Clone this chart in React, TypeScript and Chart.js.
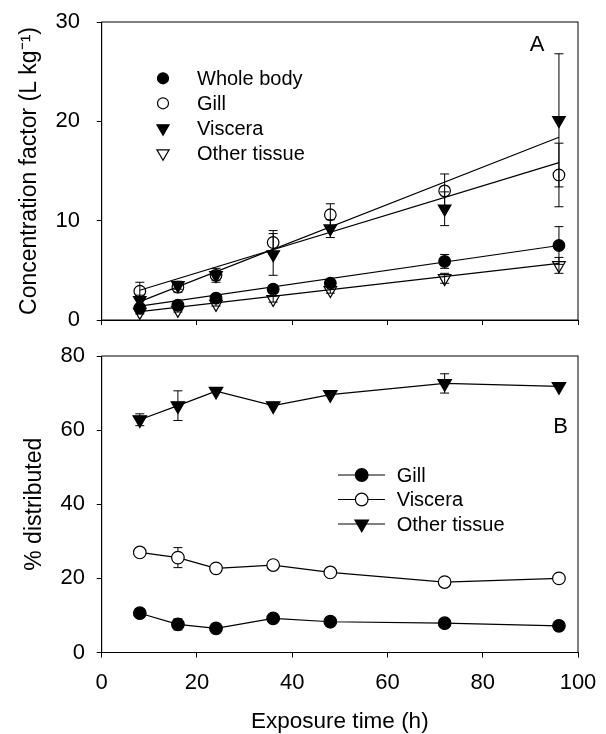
import React, { useEffect, useRef } from 'react';
import { Chart, registerables } from 'chart.js';
import { drawPoint } from 'chart.js/helpers';

Chart.register(...registerables);

// ---------------- data ----------------
const hours = [8, 16, 24, 36, 48, 72, 96];

// Panel A: concentration factor (L kg-1)
const cfWholeBody = [1.2, 1.5, 2.2, 3.1, 3.7, 5.9, 7.5];
const cfWholeBodyErr = [0.3, 0.3, 0.3, 0.4, 0.3, 0.7, 1.9];
const cfGill = [2.9, 3.3, 4.5, 7.8, 10.6, 13.0, 14.6];
const cfGillErr = [0.9, 0.5, 0.5, 1.2, 1.1, 1.7, 3.2];
const cfViscera = [2.0, 3.5, 4.5, 6.6, 9.2, 11.2, 20.1];
const cfVisceraErr = [0.5, 0.4, 0.7, 2.1, 0.9, 1.7, 6.7];
const cfOther = [0.8, 1.0, 1.6, 2.1, 3.0, 4.2, 5.5];
const cfOtherErr = [0.2, 0.2, 0.2, 0.3, 0.3, 0.5, 0.8];

// Panel A: regression lines (start/end)
const fitHours = [8, 96];
const fitWholeBody = [1.4, 7.5];
const fitGill = [3.0, 15.85];
const fitViscera = [1.85, 18.4];
const fitOther = [0.85, 5.7];

// Panel B: % distributed
const pctGill = [10.6, 7.6, 6.5, 9.2, 8.3, 7.9, 7.2];
const pctGillErr = [0, 1.5, 0, 0, 0, 0, 0];
const pctViscera = [27.0, 25.6, 22.7, 23.6, 21.6, 19.0, 20.0];
const pctVisceraErr = [0, 2.7, 0, 0, 0, 0, 0];
const pctOther = [62.8, 66.6, 70.5, 66.6, 69.6, 72.6, 71.8];
const pctOtherErr = [1.6, 4.0, 0, 0, 0, 2.6, 0];

const xTicks = [0, 20, 40, 60, 80, 100];
const yTicksA = [0, 10, 20, 30];
const yTicksB = [0, 20, 40, 60, 80];

const legendA = ['Whole body', 'Gill', 'Viscera', 'Other tissue'];
const legendB = ['Gill', 'Viscera', 'Other tissue'];

// ---------------- layout / style ----------------
const FONT = "'Liberation Sans', Arial, Helvetica, sans-serif";
const W = 606;
const PLOT_LEFT = 101.7;
const PLOT_RIGHT = 578;

type Marker = { pointStyle: string; radius: number; fill: string; rotation: number };
const mk = (style: string, r: number, filled: boolean, clear: boolean): Marker => ({
  pointStyle: style,
  radius: r,
  fill: filled ? '#000' : clear ? 'rgba(0,0,0,0)' : '#fff',
  rotation: style === 'triangle' ? 180 : 0,
});

const pts = (xs: number[], ys: number[]) => xs.map((x, i) => ({ x, y: ys[i] }));

function drawErrors(chart: any) {
  const { ctx, scales } = chart;
  const xs = scales.x;
  const ys = scales.y;
  ctx.save();
  ctx.strokeStyle = '#000';
  ctx.lineWidth = 1;
  chart.data.datasets.forEach((ds: any) => {
    if (!ds.errors) return;
    ds.data.forEach((p: any, i: number) => {
      const e = ds.errors[i];
      if (!e) return;
      const x = xs.getPixelForValue(p.x);
      const y1 = ys.getPixelForValue(p.y + e);
      const y2 = ys.getPixelForValue(p.y - e);
      ctx.beginPath();
      ctx.moveTo(x, y1);
      ctx.lineTo(x, y2);
      ctx.moveTo(x - 4.5, y1);
      ctx.lineTo(x + 4.5, y1);
      ctx.moveTo(x - 4.5, y2);
      ctx.lineTo(x + 4.5, y2);
      ctx.stroke();
    });
  });
  ctx.restore();
}

const errorBarPlugin = {
  id: 'errorBars',
  beforeDatasetsDraw(chart: any, _a: any, opts: any) {
    if (opts.layer === 'back') drawErrors(chart);
  },
  afterDatasetsDraw(chart: any, _a: any, opts: any) {
    if (opts.layer === 'front') drawErrors(chart);
  },
};

function drawMarker(ctx: CanvasRenderingContext2D, m: Marker, x: number, y: number) {
  ctx.fillStyle = m.fill;
  ctx.strokeStyle = '#000';
  ctx.lineWidth = 1.2;
  drawPoint(ctx, { pointStyle: m.pointStyle as any, rotation: m.rotation, radius: m.radius, borderWidth: 1.2 }, x, y);
}

const decorPlugin = {
  id: 'decor',
  afterDraw(chart: any, _a: any, opts: any) {
    const { ctx, chartArea: ca } = chart;
    ctx.save();
    ctx.strokeStyle = '#000';
    ctx.lineWidth = 1;
    ctx.strokeRect(ca.left, ca.top, ca.right - ca.left, ca.bottom - ca.top);

    ctx.fillStyle = '#000';
    ctx.font = `22px ${FONT}`;
    ctx.textAlign = 'center';
    ctx.textBaseline = 'middle';
    ctx.fillText(opts.letter, ca.right + opts.letterDx, ca.top + opts.letterDy);

    const L = opts.legend;
    L.labels.forEach((label: string, i: number) => {
      const y = ca.top + L.top + i * L.gap;
      const mx = ca.left + L.markerX;
      if (L.line) {
        ctx.strokeStyle = '#000';
        ctx.lineWidth = 1;
        ctx.beginPath();
        ctx.moveTo(ca.left + L.line[0], y);
        ctx.lineTo(ca.left + L.line[1], y);
        ctx.stroke();
      }
      drawMarker(ctx, L.markers[i], mx, y);
      ctx.fillStyle = '#000';
      ctx.font = `20px ${FONT}`;
      ctx.textAlign = 'left';
      ctx.textBaseline = 'middle';
      ctx.fillText(label, ca.left + L.textX, y + 1);
    });
    ctx.restore();
  },
};

function baseScales(yMin: number, yMax: number, yTicks: number[], yTitle: string, yTickPad: number, yTitlePad: number, xAxisHeight: number, showXLabels: boolean, xTickPad: number) {
  const grid = { drawOnChartArea: false, tickLength: 5, color: '#000', lineWidth: 1 };
  const border = { color: '#000', width: 1 };
  return {
    x: {
      type: 'linear',
      min: 0,
      max: 100,
      afterBuildTicks: (s: any) => {
        s.ticks = xTicks.map((v) => ({ value: v }));
      },
      ticks: { display: showXLabels, color: '#000', font: { size: 22, family: FONT }, padding: xTickPad, maxRotation: 0 },
      grid,
      border,
      title: {
        display: showXLabels,
        text: 'Exposure time (h)',
        color: '#000',
        font: { size: 22.5, family: FONT, lineHeight: 1.1 },
        padding: { top: 0, bottom: 0 },
      },
      afterFit: (s: any) => {
        s.height = xAxisHeight;
        s.paddingLeft = 0;
        s.paddingRight = 0;
      },
    },
    y: {
      type: 'linear',
      min: yMin,
      max: yMax,
      afterBuildTicks: (s: any) => {
        s.ticks = yTicks.map((v) => ({ value: v }));
      },
      ticks: { color: '#000', font: { size: 22, family: FONT }, padding: yTickPad },
      grid,
      border,
      title: {
        display: true,
        text: yTitle,
        color: '#000',
        font: { size: 23, family: FONT },
        padding: { top: yTitlePad, bottom: 0 },
      },
      afterFit: (s: any) => {
        s.width = PLOT_LEFT;
        s.paddingTop = 0;
        s.paddingBottom = 0;
      },
    },
  };
}

function pointDs(data: number[], err: number[], m: Marker, withLine: boolean) {
  return {
    data: pts(hours, data),
    errors: err,
    showLine: withLine,
    borderColor: '#000',
    borderWidth: 1.2,
    pointStyle: m.pointStyle,
    pointRotation: m.rotation,
    pointRadius: m.radius,
    pointBackgroundColor: m.fill,
    pointBorderColor: '#000',
    pointBorderWidth: 1.2,
    tension: 0,
  };
}

function fitDs(ys: number[]) {
  return {
    data: pts(fitHours, ys),
    showLine: true,
    borderColor: '#000',
    borderWidth: 1.2,
    pointRadius: 0,
    tension: 0,
  };
}

export default function App() {
  const refA = useRef<HTMLCanvasElement>(null);
  const refB = useRef<HTMLCanvasElement>(null);

  useEffect(() => {
    Chart.defaults.font.family = FONT;
    const mA = [
      mk('circle', 5.8, true, false),
      mk('circle', 5.8, false, true),
      mk('triangle', 7.3, true, false),
      mk('triangle', 7.3, false, true),
    ];
    const chartA = new Chart(refA.current as HTMLCanvasElement, {
      type: 'line',
      data: {
        datasets: [
          fitDs(fitWholeBody),
          fitDs(fitGill),
          fitDs(fitViscera),
          fitDs(fitOther),
          pointDs(cfOther, cfOtherErr, mA[3], false),
          pointDs(cfWholeBody, cfWholeBodyErr, mA[0], false),
          pointDs(cfGill, cfGillErr, mA[1], false),
          pointDs(cfViscera, cfVisceraErr, mA[2], false),
        ] as any,
      },
      options: {
        responsive: false,
        animation: false,
        events: [],
        layout: { padding: { left: 0, right: W - PLOT_RIGHT, top: 22, bottom: 0 } },
        plugins: {
          legend: { display: false },
          tooltip: { enabled: false },
          errorBars: { layer: 'front' },
          decor: {
            letter: 'A',
            letterDx: -41,
            letterDy: 23,
            legend: {
              labels: legendA,
              markers: [
                mk('circle', 5.5, true, false),
                mk('circle', 5.5, false, false),
                mk('triangle', 7.0, true, false),
                mk('triangle', 7.0, false, false),
              ],
              markerX: 61.3,
              textX: 95.3,
              top: 56.3,
              gap: 25,
            },
          },
        } as any,
        scales: baseScales(0, 30, yTicksA, 'Concentration factor (L kg\u207B\u00B9)', 16.7, 16.2, 10, false, 0) as any,
      },
      plugins: [errorBarPlugin, decorPlugin],
    });

    const mB = [
      mk('circle', 6.3, true, false),
      mk('circle', 6.3, false, false),
      mk('triangle', 7.8, true, false),
    ];
    const chartB = new Chart(refB.current as HTMLCanvasElement, {
      type: 'line',
      data: {
        datasets: [
          pointDs(pctGill, pctGillErr, mB[0], true),
          pointDs(pctViscera, pctVisceraErr, mB[1], true),
          pointDs(pctOther, pctOtherErr, mB[2], true),
        ] as any,
      },
      options: {
        responsive: false,
        animation: false,
        events: [],
        layout: { padding: { left: 0, right: W - PLOT_RIGHT, top: 26, bottom: 0 } },
        plugins: {
          legend: { display: false },
          tooltip: { enabled: false },
          errorBars: { layer: 'back' },
          decor: {
            letter: 'B',
            letterDx: -17.5,
            letterDy: 70.5,
            legend: {
              labels: legendB,
              markers: mB,
              line: [236.3, 283.3],
              markerX: 260,
              textX: 295,
              top: 119,
              gap: 24.5,
            },
          },
        } as any,
        scales: baseScales(0, 80, yTicksB, '% distributed', 11.7, 21.2, 81.5, true, 12) as any,
      },
      plugins: [errorBarPlugin, decorPlugin],
    });

    return () => {
      chartA.destroy();
      chartB.destroy();
    };
  }, []);

  return (
    <div style={{ position: 'absolute', left: 0, top: 0, width: W, height: 734, background: '#fff', overflow: 'hidden' }}>
      <canvas ref={refA} width={W} height={330} style={{ position: 'absolute', left: 0, top: 0 }} />
      <canvas ref={refB} width={W} height={404} style={{ position: 'absolute', left: 0, top: 330 }} />
    </div>
  );
}
